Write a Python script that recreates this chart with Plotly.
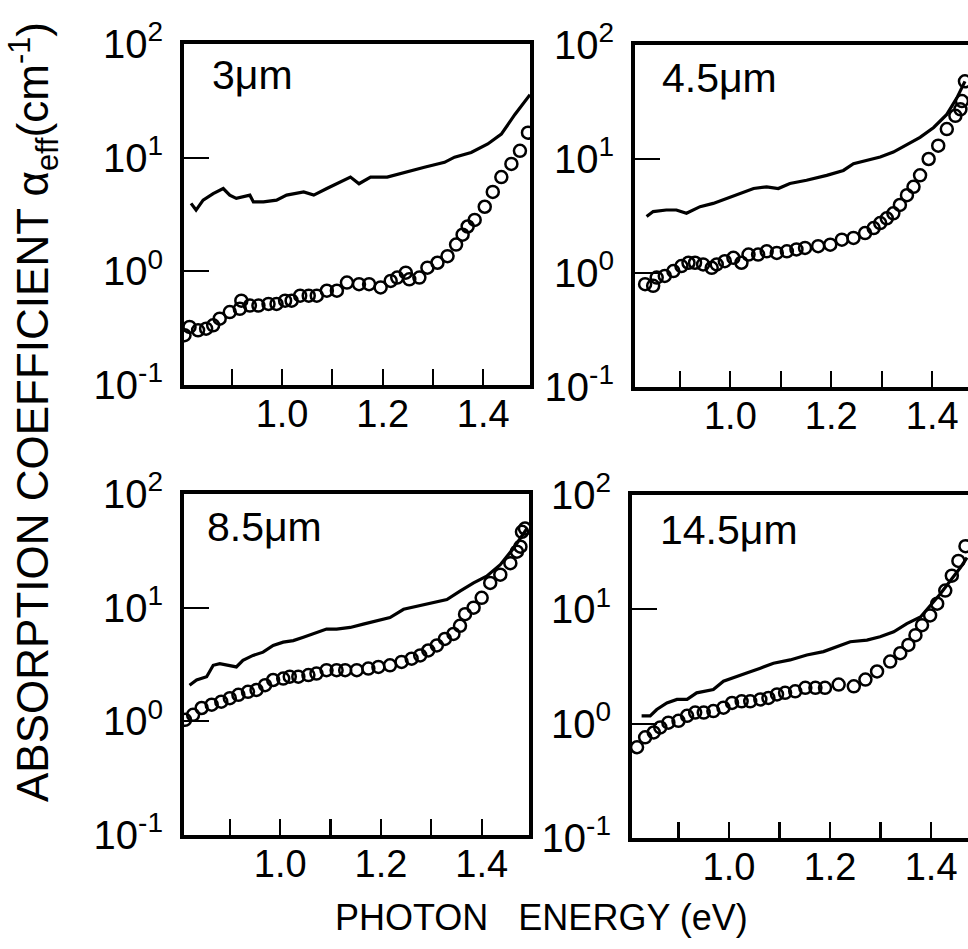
import plotly.graph_objects as go

# ---------------- data ----------------
# 3 um panel
e3_line = [0.819, 0.829, 0.843, 0.863, 0.883, 0.896, 0.909, 0.936, 0.943, 0.963, 0.989, 1.009,
           1.043, 1.063, 1.089, 1.116, 1.136, 1.153, 1.176, 1.209, 1.243, 1.283, 1.323, 1.343,
           1.376, 1.409, 1.436, 1.463, 1.493]
a3_line = [3.96, 3.46, 4.23, 4.83, 5.35, 4.68, 4.38, 4.68, 4.08, 4.08, 4.23, 4.68,
           4.99, 4.68, 5.35, 6.10, 6.75, 5.90, 6.75, 6.75, 7.45, 8.24, 9.10, 10.1,
           11.1, 13.2, 16.1, 24.0, 35.8]
e3_pts = [0.806, 0.816, 0.833, 0.849, 0.863, 0.876, 0.896, 0.916, 0.919, 0.936, 0.953, 0.973,
          0.989, 1.006, 1.019, 1.036, 1.053, 1.069, 1.089, 1.109, 1.129, 1.153, 1.173, 1.196,
          1.216, 1.229, 1.246, 1.253, 1.273, 1.289, 1.309, 1.329, 1.346, 1.359, 1.369, 1.383,
          1.403, 1.419, 1.436, 1.456, 1.473, 1.489]
a3_pts = [0.274, 0.324, 0.303, 0.313, 0.335, 0.383, 0.438, 0.468, 0.552, 0.500, 0.500, 0.517,
          0.517, 0.552, 0.552, 0.611, 0.611, 0.611, 0.675, 0.675, 0.797, 0.771, 0.771, 0.721,
          0.824, 0.881, 0.973, 0.851, 0.881, 1.076, 1.19, 1.36, 1.72, 2.10, 2.48, 2.83,
          3.70, 5.00, 6.75, 8.81, 11.5, 16.6]

# 4.5 um panel
e45_line = [0.834, 0.847, 0.873, 0.893, 0.913, 0.940, 0.966, 0.993, 1.019, 1.046, 1.072, 1.095,
            1.118, 1.151, 1.191, 1.224, 1.244, 1.270, 1.297, 1.323, 1.350, 1.376, 1.403, 1.429,
            1.449, 1.465]
a45_line = [3.13, 3.46, 3.57, 3.57, 3.34, 3.82, 4.08, 4.51, 4.98, 5.51, 5.70, 5.51,
            6.09, 6.51, 7.19, 7.94, 9.08, 9.70, 10.4, 11.5, 13.5, 15.5, 18.9, 24.6,
            34.4, 48.0]
e45_pts = [0.831, 0.847, 0.854, 0.870, 0.887, 0.903, 0.917, 0.930, 0.946, 0.963, 0.973, 0.989,
           1.006, 1.022, 1.036, 1.055, 1.072, 1.092, 1.112, 1.131, 1.148, 1.174, 1.198, 1.221,
           1.244, 1.267, 1.284, 1.297, 1.310, 1.323, 1.336, 1.350, 1.363, 1.376, 1.393, 1.412,
           1.429, 1.446, 1.456, 1.459, 1.465]
a45_pts = [0.798, 0.772, 0.911, 0.942, 1.04, 1.15, 1.23, 1.23, 1.19, 1.11, 1.19, 1.27,
           1.36, 1.23, 1.45, 1.45, 1.55, 1.50, 1.55, 1.61, 1.66, 1.72, 1.77, 1.96,
           2.03, 2.24, 2.48, 2.74, 3.02, 3.34, 3.95, 4.82, 5.70, 7.19, 10.0, 13.1,
           18.3, 23.9, 27.3, 32.2, 48.0]

# 8.5 um panel
e85_line = [0.820, 0.834, 0.854, 0.867, 0.880, 0.897, 0.913, 0.926, 0.946, 0.966, 0.986, 1.006,
            1.026, 1.046, 1.066, 1.092, 1.112, 1.139, 1.165, 1.192, 1.218, 1.245, 1.271, 1.304,
            1.331, 1.357, 1.384, 1.410, 1.437, 1.463, 1.490]
a85_line = [2.08, 2.31, 2.47, 3.11, 3.22, 3.11, 3.01, 3.44, 3.80, 4.06, 4.65, 4.97,
            5.13, 5.49, 5.87, 6.48, 6.48, 6.70, 7.16, 7.66, 8.19, 9.68, 10.3, 11.1,
            11.8, 14.0, 16.5, 18.9, 23.9, 33.2, 49.7]
e85_pts = [0.811, 0.827, 0.844, 0.864, 0.883, 0.900, 0.917, 0.936, 0.953, 0.970, 0.986, 1.006,
           1.019, 1.036, 1.056, 1.072, 1.092, 1.112, 1.129, 1.152, 1.175, 1.195, 1.218, 1.241,
           1.261, 1.278, 1.294, 1.311, 1.327, 1.344, 1.357, 1.367, 1.384, 1.400, 1.417, 1.437,
           1.457, 1.470, 1.477, 1.480, 1.486]
a85_pts = [1.03, 1.14, 1.31, 1.40, 1.49, 1.60, 1.71, 1.82, 1.89, 2.08, 2.31, 2.38,
           2.47, 2.47, 2.55, 2.63, 2.82, 2.82, 2.82, 2.82, 2.91, 3.01, 3.11, 3.33,
           3.56, 3.80, 4.20, 4.65, 5.31, 5.87, 6.93, 8.76, 10.0, 12.2, 16.5, 19.5,
           24.6, 31.1, 34.4, 46.5, 49.7]

# 14.5 um panel
e145_line = [0.827, 0.844, 0.857, 0.877, 0.897, 0.917, 0.936, 0.956, 0.969, 0.989, 1.009, 1.035,
             1.062, 1.088, 1.121, 1.154, 1.187, 1.214, 1.240, 1.273, 1.299, 1.326, 1.352, 1.379,
             1.398, 1.418, 1.438, 1.458, 1.471]
a145_line = [1.17, 1.17, 1.33, 1.52, 1.63, 1.63, 1.86, 1.92, 1.99, 2.35, 2.51, 2.77,
             3.06, 3.38, 3.61, 3.99, 4.27, 4.71, 5.21, 5.38, 5.75, 6.36, 7.50, 8.57,
             10.8, 13.6, 17.8, 23.2, 28.3]
e145_pts = [0.818, 0.834, 0.851, 0.864, 0.880, 0.900, 0.917, 0.933, 0.950, 0.969, 0.989, 1.006,
            1.025, 1.042, 1.062, 1.078, 1.095, 1.111, 1.131, 1.151, 1.171, 1.190, 1.217, 1.247,
            1.270, 1.293, 1.319, 1.339, 1.355, 1.369, 1.382, 1.398, 1.412, 1.428, 1.441, 1.454,
            1.468]
a145_pts = [0.622, 0.759, 0.839, 0.927, 1.02, 1.06, 1.17, 1.25, 1.25, 1.29, 1.38, 1.52,
            1.57, 1.57, 1.63, 1.68, 1.80, 1.86, 1.92, 2.06, 2.06, 2.06, 2.20, 2.12,
            2.43, 2.86, 3.49, 4.13, 4.88, 5.94, 7.26, 8.85, 11.2, 14.6, 19.7, 26.5,
            35.7]

panel_labels = ["3\u03bcm", "4.5\u03bcm", "8.5\u03bcm", "14.5\u03bcm"]
x_major_vals = [1.0, 1.2, 1.4]
x_major_text = ["1.0", "1.2", "1.4"]
x_minor_vals = [0.9, 1.1, 1.3]
y_tick_vals = [0.1, 1, 10, 100]
y_tick_text = ["10<sup>-1</sup>", "10<sup>0</sup>", "10<sup>1</sup>", "10<sup>2</sup>"]
x_title = "PHOTON\u00a0\u00a0\u00a0ENERGY (eV)"
y_title = "ABSORPTION COEFFICIENT \u03b1<sub>eff</sub>(cm<sup>-1</sup>)"

# ---------------- layout helpers ----------------
W, H = 968, 949
FONT = "Liberation Sans"

def xdom(a, b):
    return [a / W, b / W]

def ydom(top, bottom):
    return [1 - bottom / H, 1 - top / H]

panels = [
    # (line x, line y, pts x, pts y, xdomain px, ydomain px, xrange, mirror right)
    (e3_line, a3_line, e3_pts, a3_pts, (184, 530), (44, 385), [0.805, 1.493], True),
    (e45_line, a45_line, e45_pts, a45_pts, (635, 968), (45, 387), [0.811, 1.471], False),
    (e85_line, a85_line, e85_pts, a85_pts, (184, 529), (494, 835), [0.809, 1.494], True),
    (e145_line, a145_line, e145_pts, a145_pts, (632, 968), (495, 838), [0.808, 1.473], False),
]
label_pos = [(210, 75), (660, 78), (205, 527), (658, 530)]

fig = go.Figure()
layout = dict(
    template="none",
    width=W, height=H, autosize=False,
    margin=dict(l=0, r=0, t=0, b=0, pad=0, autoexpand=False),
    paper_bgcolor="white", plot_bgcolor="white",
    showlegend=False,
    font=dict(family=FONT, color="black"),
)

for i, (lx, ly, px, py, xd, yd, xr, mir) in enumerate(panels):
    n = "" if i == 0 else str(i + 1)
    xa, ya = "x" + n, "y" + n
    fig.add_trace(go.Scatter(x=lx, y=ly, mode="lines", xaxis=xa, yaxis=ya,
                             line=dict(color="black", width=3.2)))
    fig.add_trace(go.Scatter(x=px, y=py, mode="markers", xaxis=xa, yaxis=ya,
                             marker=dict(symbol="circle-open", size=12, color="black",
                                         line=dict(width=2.5, color="black"))))
    layout["xaxis" + n] = dict(
        domain=xdom(*xd), range=xr, anchor=ya, automargin=False,
        showline=True, linewidth=4, linecolor="black", mirror=True,
        showgrid=False, zeroline=False,
        ticks="inside", ticklen=16, tickwidth=2.2, tickcolor="black",
        tickvals=x_major_vals, ticktext=x_major_text,
        minor=dict(tickvals=x_minor_vals, ticks="inside", ticklen=16, tickwidth=2.2,
                   tickcolor="black", showgrid=False),
        tickfont=dict(family=FONT, size=38, color="black"),
        ticklabelstandoff=-8,
    )
    layout["yaxis" + n] = dict(
        domain=ydom(*yd), type="log", range=[-1, 2], anchor=xa, automargin=False,
        showline=True, linewidth=4, linecolor="black", mirror=mir,
        showgrid=False, zeroline=False,
        ticks="inside", ticklen=25, tickwidth=2.2, tickcolor="black",
        tickvals=y_tick_vals, ticktext=y_tick_text,
        tickfont=dict(family=FONT, size=40, color="black"),
        ticklabelstandoff=9,
    )

annotations = []
for (ax, ay), txt in zip(label_pos, panel_labels):
    annotations.append(dict(text=txt, x=ax / W, y=1 - ay / H, xref="paper", yref="paper",
                            xanchor="left", yanchor="middle", showarrow=False,
                            font=dict(family=FONT, size=41, color="black")))
annotations.append(dict(text=x_title, x=541 / W, y=1 - 917 / H, xref="paper", yref="paper",
                        xanchor="center", yanchor="middle", showarrow=False,
                        font=dict(family=FONT, size=36, color="black")))
annotations.append(dict(text=y_title, x=33 / W, y=1 - 412 / H, xref="paper", yref="paper",
                        xanchor="center", yanchor="middle", showarrow=False, textangle=-90,
                        font=dict(family=FONT, size=44, color="black")))
layout["annotations"] = annotations

fig.update_layout(**layout)
fig.write_html("out.html", config={"displayModeBar": False, "staticPlot": True},
               post_script="document.body.style.margin='0';")
